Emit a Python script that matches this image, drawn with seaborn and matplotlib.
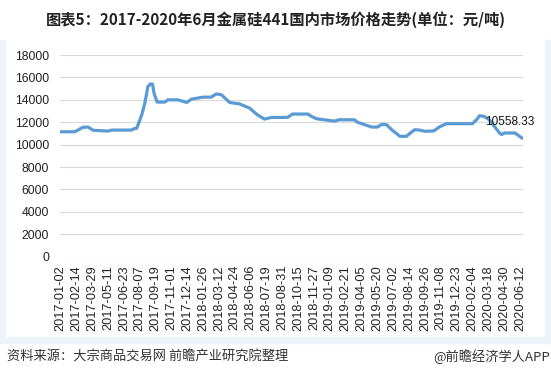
import numpy as np
import pandas as pd
import matplotlib
matplotlib.use("Agg")
import matplotlib.pyplot as plt
from matplotlib.patches import Rectangle
import seaborn as sns

# ---------------- data ----------------
dates = [
    "2017-01-02", "2017-02-09", "2017-03-03", "2017-03-17", "2017-03-31", "2017-05-11",
    "2017-05-22", "2017-07-14", "2017-07-24", "2017-07-28", "2017-08-03", "2017-08-11",
    "2017-08-21", "2017-08-29", "2017-09-05", "2017-09-11", "2017-09-14", "2017-09-22",
    "2017-10-13", "2017-10-23", "2017-11-17", "2017-12-01", "2017-12-13", "2017-12-26",
    "2018-01-26", "2018-02-19", "2018-03-05", "2018-03-19", "2018-04-10", "2018-05-07",
    "2018-06-04", "2018-06-25", "2018-07-13", "2018-08-02", "2018-09-14", "2018-09-28",
    "2018-11-09", "2018-11-20", "2018-12-04", "2018-12-25", "2019-01-22", "2019-02-04",
    "2019-03-18", "2019-03-26", "2019-04-23", "2019-05-03", "2019-05-20", "2019-05-31",
    "2019-06-13", "2019-06-27", "2019-07-11", "2019-07-19", "2019-08-07", "2019-08-15",
    "2019-08-29", "2019-09-12", "2019-09-26", "2019-10-18", "2019-10-23", "2019-11-05",
    "2019-11-25", "2020-02-04", "2020-02-14", "2020-02-24", "2020-03-06", "2020-03-20",
    "2020-04-03", "2020-04-17", "2020-04-23", "2020-05-01", "2020-05-29", "2020-06-05",
    "2020-06-19",
]
prices = [
    11150, 11150, 11550, 11570, 11280, 11210,
    11300, 11300, 11450, 11450, 11930, 12670,
    13700, 15180, 15420, 15400, 14600, 13800,
    13800, 14000, 14000, 13880, 13760, 14060,
    14240, 14240, 14530, 14450, 13760, 13640,
    13260, 12670, 12280, 12430, 12430, 12730,
    12730, 12520, 12310, 12220, 12100, 12220,
    12220, 12000, 11690, 11570, 11570, 11810,
    11780, 11330, 10980, 10740, 10740, 10980,
    11330, 11300, 11190, 11220, 11270, 11570,
    11870, 11870, 12220, 12580, 12520, 12220,
    11630, 11040, 10900, 11040, 11040, 10890,
    10558.33,
]
tick_labels = [
    "2017-01-02", "2017-02-14", "2017-03-29", "2017-05-11", "2017-06-23", "2017-08-07",
    "2017-09-19", "2017-11-01", "2017-12-14", "2018-01-26", "2018-03-12", "2018-04-24",
    "2018-06-06", "2018-07-19", "2018-08-31", "2018-10-15", "2018-11-27", "2019-01-09",
    "2019-02-21", "2019-04-05", "2019-05-20", "2019-07-02", "2019-08-14", "2019-09-26",
    "2019-11-08", "2019-12-23", "2020-02-04", "2020-03-18", "2020-04-30", "2020-06-12",
]
y_ticks = [0, 2000, 4000, 6000, 8000, 10000, 12000, 14000, 16000, 18000]
last_label = "10558.33"
title = "图表5：2017-2020年6月金属硅441国内市场价格走势(单位：元/吨)"
source = "资料来源：大宗商品交易网 前瞻产业研究院整理"
brand = "@前瞻经济学人APP"

# ---------------- build ----------------
start = np.datetime64(dates[0])
bday = np.busday_count(start, np.array(dates, dtype="datetime64[D]"))
tick_pos = np.busday_count(start, np.array(tick_labels, dtype="datetime64[D]"))
df = pd.DataFrame({"bday": bday, "price": prices})

sns.set_theme(style="white")
plt.rcParams["font.family"] = ["Liberation Sans", "Noto Sans CJK SC", "DejaVu Sans"]

W, H = 551, 382
fig = plt.figure(figsize=(W / 100, H / 100), dpi=100)
fig.patch.set_facecolor("white")

# light frame strips
band = "#eef2f9"
for (x0, y0, w, h) in [(0, 40, 5, 303), (545, 40, 6, 303), (0, 337, 551, 6)]:
    fig.patches.append(Rectangle((x0 / W, 1 - (y0 + h) / H), w / W, h / H,
                                 transform=fig.transFigure, color=band, zorder=0))

ax = fig.add_axes([60 / W, 1 - 256.7 / H, (523 - 60) / W, (256.7 - 55) / H])
ax.set_facecolor("none")
sns.lineplot(data=df, x="bday", y="price", ax=ax, color="#5b9bd5", linewidth=2.3,
             solid_joinstyle="round", solid_capstyle="round")

ax.set_xlim(-1, bday[-1] + 1)
ax.set_ylim(0, 18000)
ax.set_yticks(y_ticks)
ax.set_yticklabels([str(v) for v in y_ticks], fontsize=8.7, color="#222222")
ax.set_xticks(tick_pos)
ax.set_xticklabels(tick_labels, rotation=90, fontsize=9.2, color="#222222")
ax.tick_params(axis="both", length=0)
ax.tick_params(axis="y", pad=8)
ax.tick_params(axis="x", pad=6)
ax.grid(axis="y", color="#d9d9d9", linewidth=0.8)
ax.grid(axis="x", visible=False)
for s in ax.spines.values():
    s.set_visible(False)
ax.set_xlabel("")
ax.set_ylabel("")

ax.annotate(last_label, xy=(bday[-1], prices[-1]), xytext=(-13, 16),
            textcoords="offset pixels", ha="center", va="center",
            fontsize=8.5, color="#111111")

fig.text(0.5, 1 - 20 / H, title, ha="center", va="center", fontsize=11,
         fontweight="bold", color="#222222",
         family=["Noto Sans CJK SC", "DejaVu Sans"])
fig.text(7 / W, 1 - 357 / H, source, ha="left", va="center", fontsize=9.5,
         color="#333333", family=["Noto Sans CJK SC", "DejaVu Sans"])
fig.text(550 / W, 1 - 357 / H, brand, ha="right", va="center", fontsize=9.5,
         color="#333333", family=["Noto Sans CJK SC", "DejaVu Sans"])

fig.savefig("out.png", dpi=100)
